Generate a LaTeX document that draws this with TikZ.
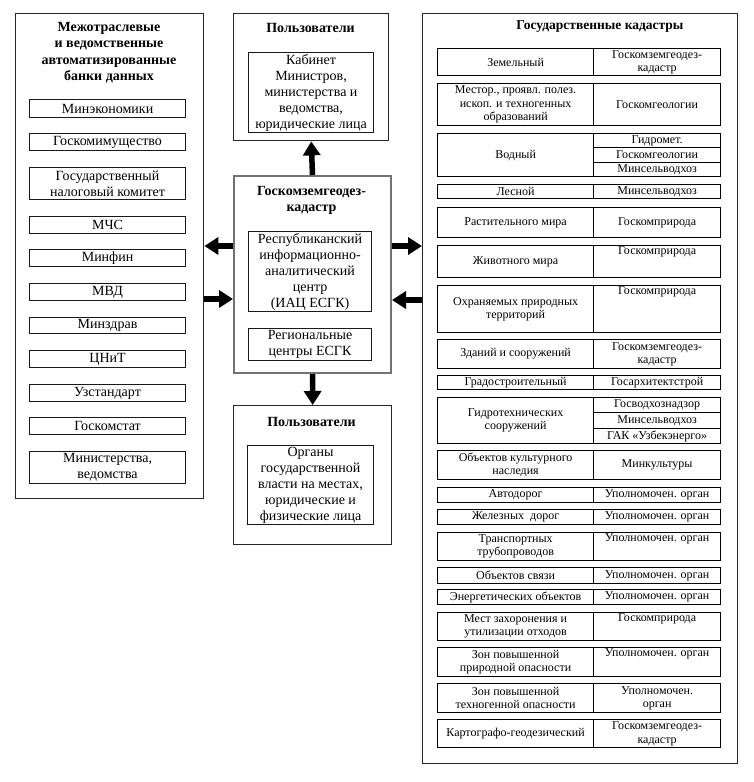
\documentclass[tikz,border=0pt]{standalone}
\usepackage{fontspec}
\setmainfont{Liberation Serif}
\usetikzlibrary{arrows.meta}
\newcommand\mkbox[7]{\node[#6,anchor=north west,minimum width={#4pt-#2pt},minimum height={#5pt-#3pt}] (#1) at (#2,#3) {#7};}
\begin{document}
\begin{tikzpicture}[x=1pt,y=-1pt,
  panel/.style={draw=black!85,line width=1.4pt,inner sep=0pt},
  cpanel/.style={draw=black!55,line width=2pt,inner sep=0pt},
  ibox/.style={draw=black!90,line width=1.1pt,inner sep=0pt,align=center,font=\fontsize{14}{16}\selectfont},
  tcell/.style={draw=black,line width=1.2pt,inner sep=0pt,align=center,font=\fontsize{12}{13.5}\selectfont},
  ttext/.style={inner sep=1pt,anchor=north,align=center,font=\fontsize{12}{13.5}\selectfont},
  ttl/.style={inner sep=0pt,align=center,font=\bfseries\fontsize{14}{16.3}\selectfont},
  fat/.style={-{Triangle[width=17pt,length=14pt]},line width=5.5pt,black}]
\fill[white] (0,0) rectangle (754,782);
\useasboundingbox (0,0) rectangle (754,782);
% left panel
\mkbox{left}{15}{13}{203}{498}{panel}{}
\node[ttl] (ltitle) at (109,52.5) {Межотраслевые\\и ведомственные\\автоматизированные\\банки данных};
\mkbox{lb1}{29}{99}{185}{117}{ibox}{Минэкономики}
\mkbox{lb2}{29}{133}{185}{150}{ibox}{Госкомимущество}
\mkbox{lb3}{29}{167}{185}{199}{ibox}{Государственный\\налоговый комитет}
\mkbox{lb4}{29}{216}{185}{233}{ibox}{МЧС}
\mkbox{lb5}{29}{249}{185}{266}{ibox}{Минфин}
\mkbox{lb6}{29}{283}{185}{300}{ibox}{МВД}
\mkbox{lb7}{29}{317}{185}{333}{ibox}{Минздрав}
\mkbox{lb8}{29}{350}{185}{367}{ibox}{ЦНиТ}
\mkbox{lb9}{29}{384}{185}{401}{ibox}{Узстандарт}
\mkbox{lb10}{29}{417}{185}{434}{ibox}{Госкомстат}
\mkbox{lb11}{29}{451}{185}{483}{ibox}{Министерства,\\ведомства}
% top users
\mkbox{utop}{233}{13}{388}{140}{panel}{}
\node[ttl] (uttitle) at (310.5,28) {Пользователи};
\mkbox{ut1}{248}{52}{373}{132}{ibox}{Кабинет\\Министров,\\министерства и\\ведомства,\\юридические лица}
% center
\mkbox{ctr}{233}{175}{390}{372}{cpanel}{}
\node[ttl] (ctitle) at (311.5,200.5) {Госкомземгеодез-\\кадастр};
\mkbox{c1}{248}{231}{371}{311}{ibox}{Республиканский\\информационно-\\аналитический\\центр\\(ИАЦ ЕСГК)}
\mkbox{c2}{248}{328}{371}{360}{ibox}{Региональные\\центры ЕСГК}
% bottom users
\mkbox{ubot}{233}{405}{391}{544}{panel}{}
\node[ttl] (ubtitle) at (311.5,422) {Пользователи};
\mkbox{ub1}{247}{445}{373}{524}{ibox}{Органы\\государственной\\власти на местах,\\юридические и\\физические лица}
% right panel
\mkbox{right}{422}{13}{737}{763}{panel}{}
\node[ttl,font=\bfseries\fontsize{13.5}{16}\selectfont] (rtitle) at (600,27) {Государственные кадастры};
% rows
\mkbox{r1a}{437}{48}{593}{75}{tcell}{Земельный}
\mkbox{r1b}{593}{48}{720}{75}{tcell}{Госкомземгеодез-\\кадастр}
\mkbox{r2a}{437}{83}{593}{125}{tcell}{Местор., проявл. полез.\\ископ. и техногенных\\образований}
\mkbox{r2b}{593}{83}{720}{125}{tcell}{Госкомгеологии}
\mkbox{r3a}{437}{133}{593}{176}{tcell}{Водный}
\mkbox{r3b}{593}{133}{720}{147}{tcell}{Гидромет.}
\mkbox{r3c}{593}{147}{720}{162}{tcell}{Госкомгеологии}
\mkbox{r3d}{593}{162}{720}{176}{tcell}{Минсельводхоз}
\mkbox{r4a}{437}{184}{593}{198}{tcell}{Лесной}
\mkbox{r4b}{593}{184}{720}{198}{tcell}{Минсельводхоз}
\mkbox{r5a}{437}{207}{593}{237}{tcell}{Растительного мира}
\mkbox{r5b}{593}{207}{720}{237}{tcell}{Госкомприрода}
\mkbox{r6a}{437}{245}{593}{277}{tcell}{Животного мира}
\mkbox{r6b}{593}{245}{720}{277}{tcell}{}
\node[ttext] (r6t) at (r6b.north) {Госкомприрода};
\mkbox{r7a}{437}{285}{593}{332}{tcell}{Охраняемых природных\\территорий}
\mkbox{r7b}{593}{285}{720}{332}{tcell}{}
\node[ttext] (r7t) at (r7b.north) {Госкомприрода};
\mkbox{r8a}{437}{339}{593}{368}{tcell}{Зданий и сооружений}
\mkbox{r8b}{593}{339}{720}{368}{tcell}{Госкомземгеодез-\\кадастр}
\mkbox{r9a}{437}{375}{593}{389}{tcell}{Градостроительный}
\mkbox{r9b}{593}{375}{720}{389}{tcell}{Госархитектстрой}
\mkbox{r10a}{437}{397}{593}{443}{tcell}{Гидротехнических\\сооружений}
\mkbox{r10b}{593}{397}{720}{412}{tcell}{Госводхознадзор}
\mkbox{r10c}{593}{412}{720}{428}{tcell}{Минсельводхоз}
\mkbox{r10d}{593}{428}{720}{443}{tcell}{ГАК «Узбекэнерго»}
\mkbox{r11a}{437}{450}{593}{479}{tcell}{Объектов культурного\\наследия}
\mkbox{r11b}{593}{450}{720}{479}{tcell}{Минкультуры}
\mkbox{r12a}{437}{487}{593}{502}{tcell}{Автодорог}
\mkbox{r12b}{593}{487}{720}{502}{tcell}{Уполномочен. орган}
\mkbox{r13a}{437}{509}{593}{524}{tcell}{Железных\ \ дорог}
\mkbox{r13b}{593}{509}{720}{524}{tcell}{Уполномочен. орган}
\mkbox{r14a}{437}{532}{593}{560}{tcell}{Транспортных\\трубопроводов}
\mkbox{r14b}{593}{532}{720}{560}{tcell}{}
\node[ttext] (r14t) at (r14b.north) {Уполномочен. орган};
\mkbox{r15a}{437}{567}{593}{583}{tcell}{Объектов связи}
\mkbox{r15b}{593}{567}{720}{583}{tcell}{Уполномочен. орган}
\mkbox{r16a}{437}{589}{593}{604}{tcell}{Энергетических объектов}
\mkbox{r16b}{593}{589}{720}{604}{tcell}{Уполномочен. орган}
\mkbox{r17a}{437}{612}{593}{640}{tcell}{Мест захоронения и\\утилизации отходов}
\mkbox{r17b}{593}{612}{720}{640}{tcell}{}
\node[ttext] (r17t) at (r17b.north) {Госкомприрода};
\mkbox{r18a}{437}{647}{593}{676}{tcell}{Зон повышенной\\природной опасности}
\mkbox{r18b}{593}{647}{720}{676}{tcell}{}
\node[ttext] (r18t) at (r18b.north) {Уполномочен. орган};
\mkbox{r19a}{437}{683}{593}{712}{tcell}{Зон повышенной\\техногенной опасности}
\mkbox{r19b}{593}{683}{720}{712}{tcell}{Уполномочен.\\орган}
\mkbox{r20a}{437}{719}{593}{747}{tcell}{Картографо-геодезический}
\mkbox{r20b}{593}{719}{720}{747}{tcell}{Госкомземгеодез-\\кадастр}
% arrows
\draw[fat] (ctr.north) -- (utop.south);
\draw[fat] (ctr.south) -- (ubot.north);
\draw[fat] (ctr.west |- 0,246) -- (left.east |- 0,246);
\draw[fat] (left.east |- 0,299) -- (ctr.west |- 0,299);
\draw[fat] (ctr.east |- 0,246) -- (right.west |- 0,246);
\draw[fat] (right.west |- 0,300) -- (ctr.east |- 0,300);
\end{tikzpicture}
\end{document}
